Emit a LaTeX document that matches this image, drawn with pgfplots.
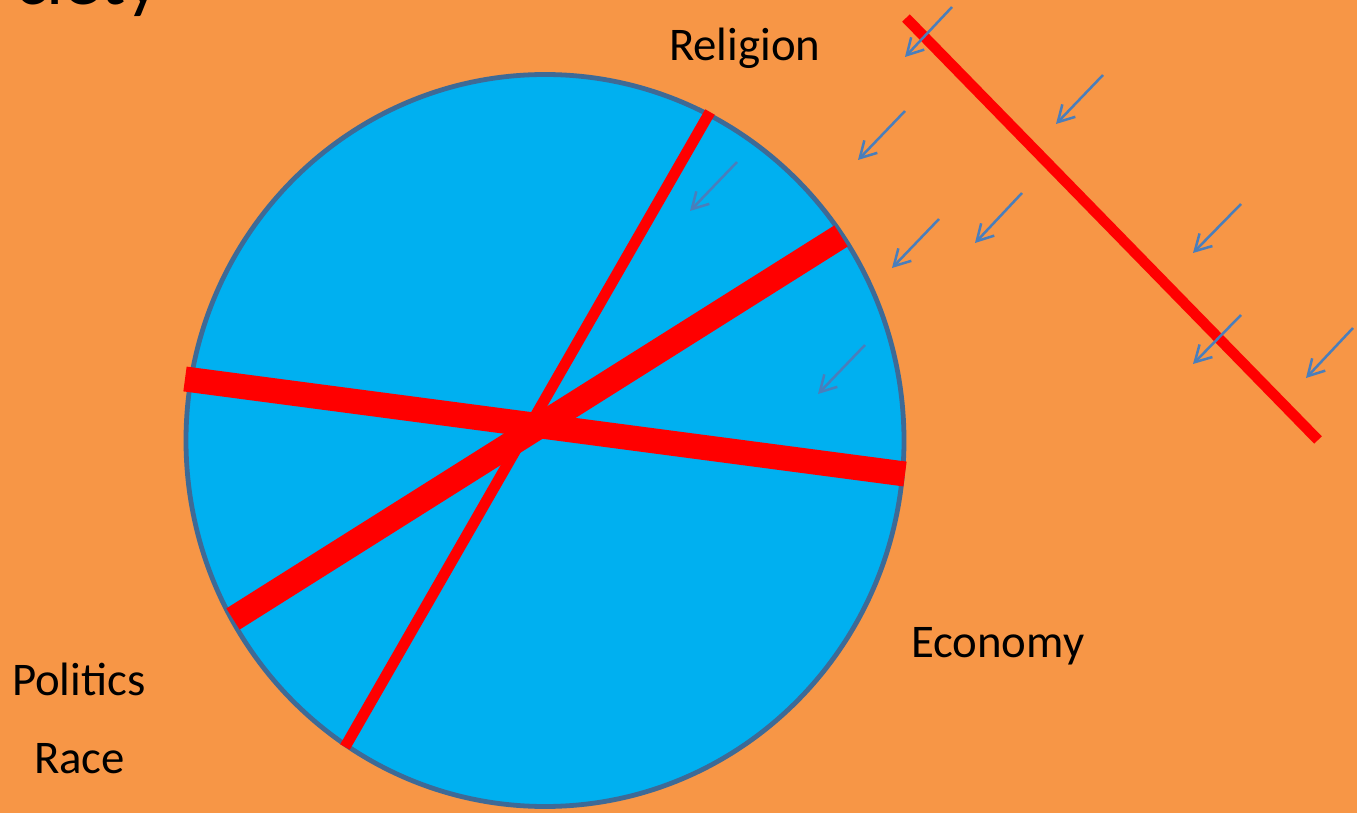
\documentclass[border=0pt]{standalone}
\usepackage{pgfplots}
\pgfplotsset{compat=1.18}
\usetikzlibrary{arrows.meta}
\usepackage{fontspec}
\setmainfont{Carlito}
\definecolor{bg}{HTML}{F79646}
\definecolor{disc}{HTML}{00B0F0}
\definecolor{rim}{HTML}{3E6A96}
\definecolor{arr}{HTML}{4A7EBB}
\definecolor{rd}{HTML}{FF0000}
\begin{document}
\begin{tikzpicture}
\begin{axis}[scale only axis, width=678.5pt, height=406.5pt,
  xmin=0, xmax=1357, ymin=0, ymax=813, y dir=reverse, hide axis, clip=true]
% background
\addplot[fill=bg, draw=none] coordinates {(0,0) (1357,0) (1357,813) (0,813)} -- cycle;
% disc
\draw[fill=disc, draw=rim, line width=2.4pt] (axis cs:545,440.5) ellipse [x radius=359, y radius=366];
% red lines
\addplot[rd, line width=5.5pt] coordinates {(710,112) (345,747)};
\addplot[rd, line width=12.5pt] coordinates {(841,236) (233,619)};
\addplot[rd, line width=12.5pt] coordinates {(185,379) (905,474)};
\addplot[rd, line width=5.3pt] coordinates {(906,18) (1318,440)};
% arrows
\pgfplotsset{arrstyle/.style={arr, line width=1.25pt, -{Straight Barb[length=8pt,width=9pt]}}}
\addplot[arrstyle] coordinates {(952,7) (905,57)};
\addplot[arrstyle] coordinates {(1103,75) (1056,124)};
\addplot[arrstyle] coordinates {(905,111) (858,160)};
\addplot[arrstyle] coordinates {(1022,193) (975,243)};
\addplot[arrstyle] coordinates {(939,219) (892,268)};
\addplot[arrstyle] coordinates {(1241,204) (1193,253)};
\addplot[arrstyle] coordinates {(1241,315) (1193,364)};
\addplot[arrstyle] coordinates {(1353,328) (1306,378)};
\addplot[arrstyle] coordinates {(737,162) (690,211)};
\addplot[arrstyle] coordinates {(865,345) (818,394)};
% labels
\node[anchor=base west, font=\fontsize{23.4}{28}\selectfont] at (axis cs:662,61) {Religion};
\node[anchor=base west, font=\fontsize{23.4}{28}\selectfont] at (axis cs:904,657) {Economy};
\node[anchor=base west, font=\fontsize{23.4}{28}\selectfont] at (axis cs:5,695) {Politics};
\node[anchor=base west, font=\fontsize{23.4}{28}\selectfont] at (axis cs:27,773) {Race};
\node[anchor=base west, font=\fontsize{37.5}{44}\selectfont] at (axis cs:8,5) {ciety};
\end{axis}
\pgfresetboundingbox
\path[use as bounding box] (current axis.south west) rectangle (current axis.north east);
\end{tikzpicture}
\end{document}
